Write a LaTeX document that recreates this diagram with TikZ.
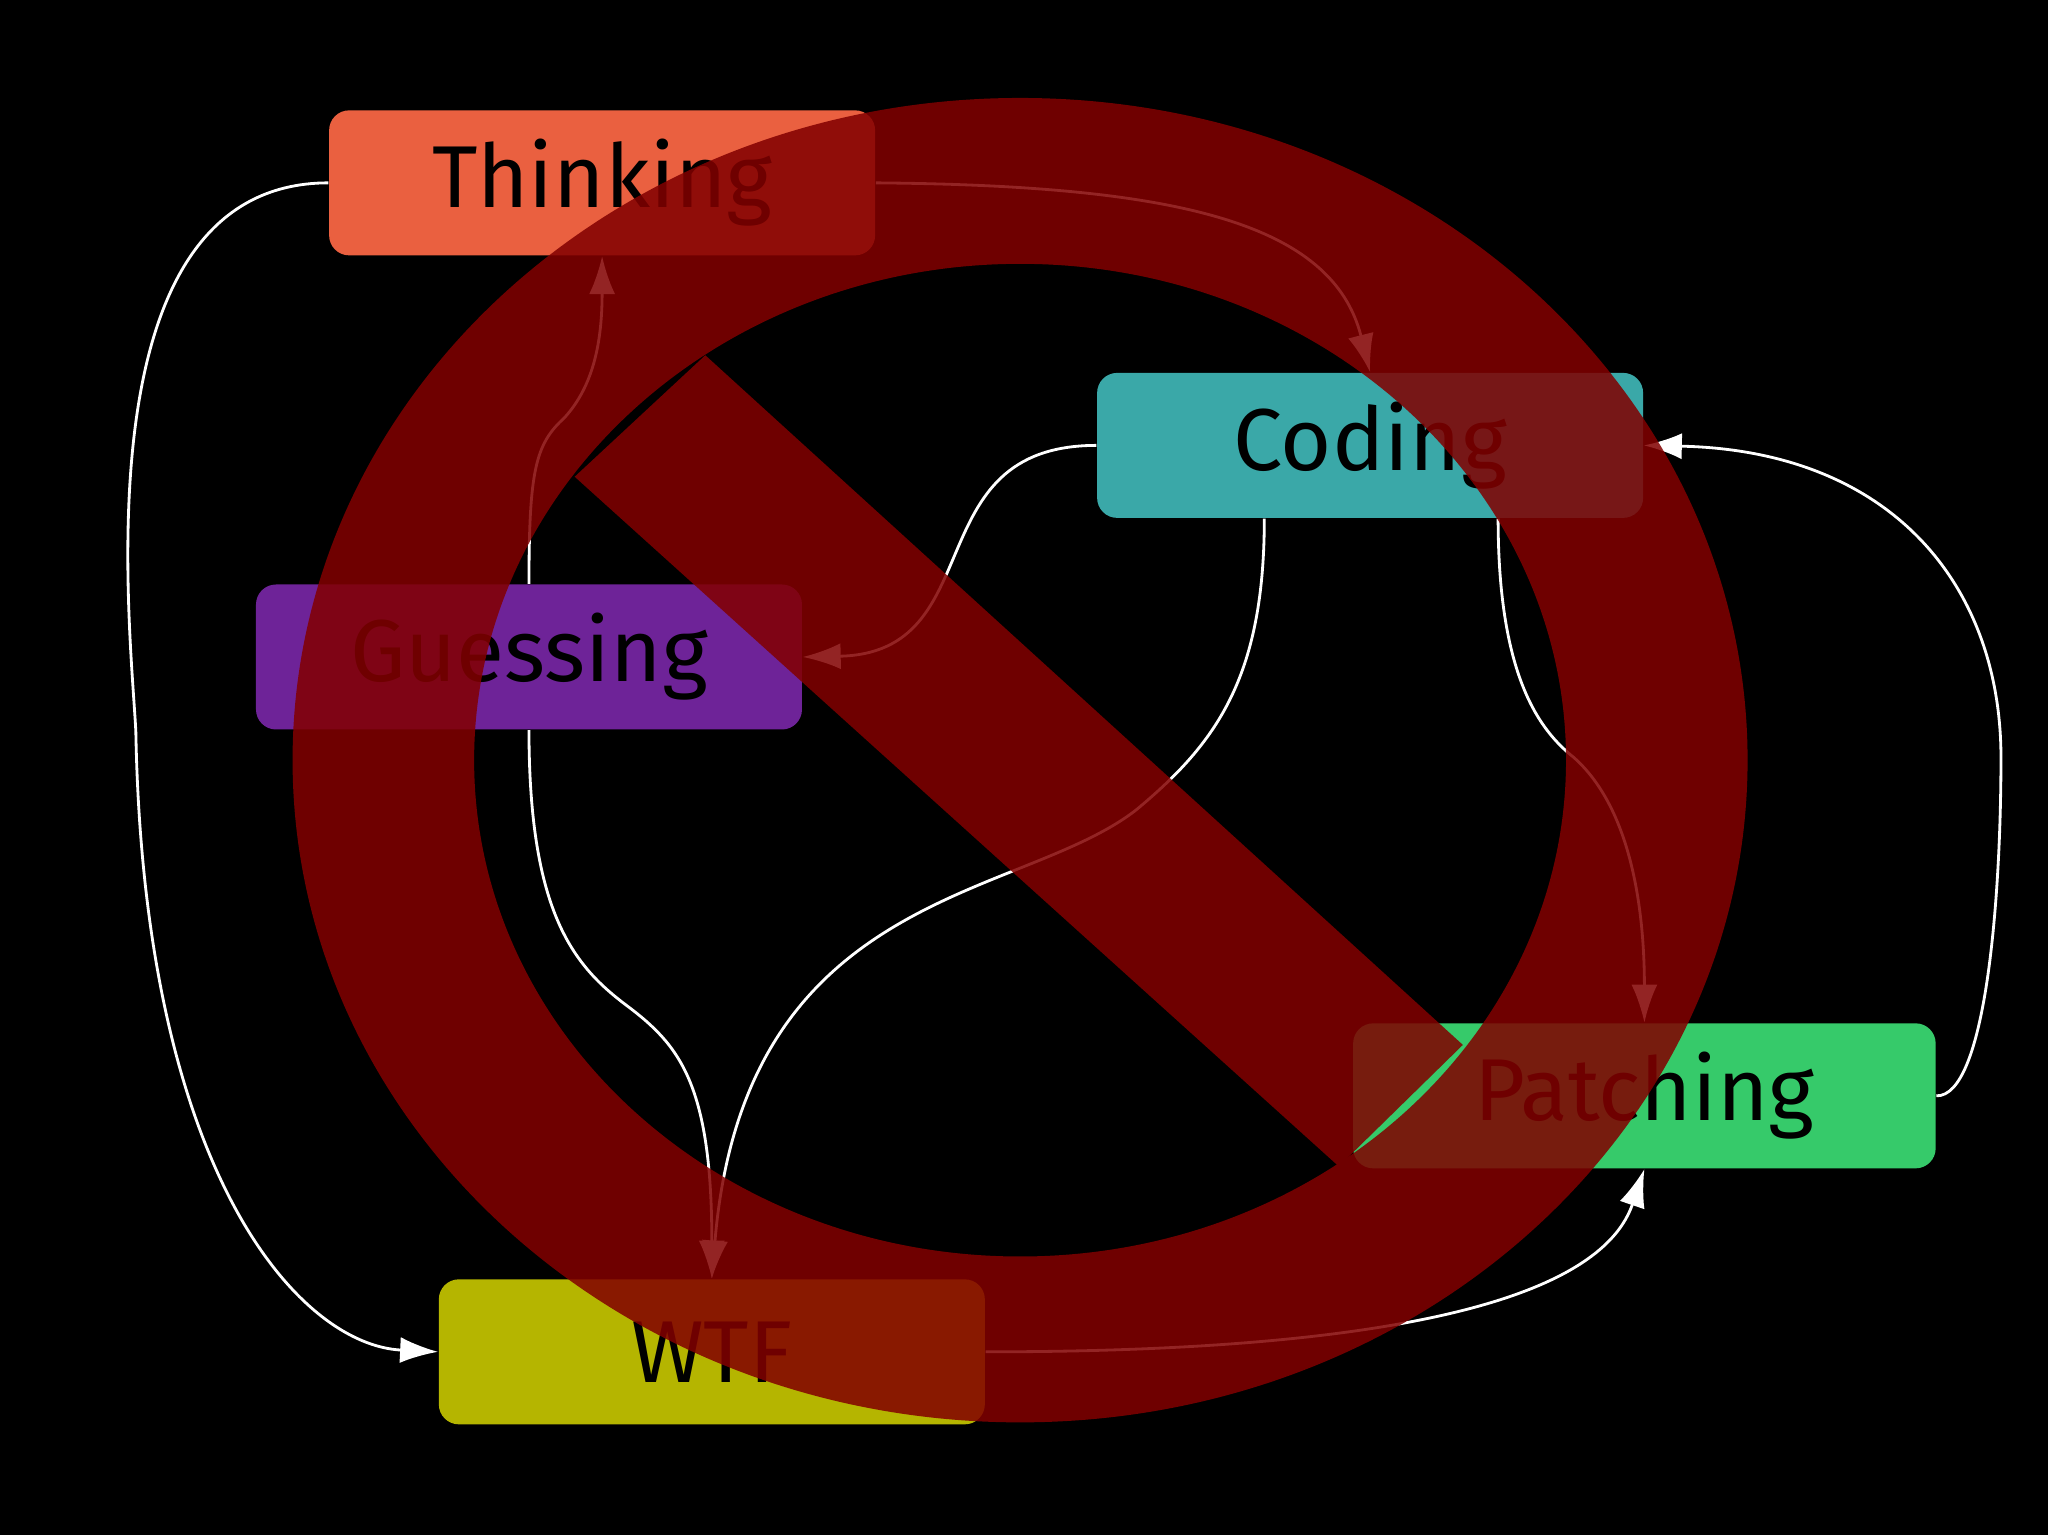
\documentclass[tikz,border=0pt]{standalone}
\usepackage{fontspec}
\setmainfont{Fira Sans}
\usetikzlibrary{arrows.meta}
\definecolor{cthink}{HTML}{EA6040}
\definecolor{ccode}{HTML}{3AA8A8}
\definecolor{cguess}{HTML}{6E2398}
\definecolor{cpatch}{HTML}{36CA6A}
\definecolor{cwtf}{HTML}{B5B500}
\definecolor{cban}{HTML}{820000}
\begin{document}
\begin{tikzpicture}[x=0.013061cm,y=-0.013061cm,
  box/.style={rounded corners=0.2cm,minimum height=1.45cm,minimum width=5.46cm,inner sep=0pt,font=\fontsize{25}{30}\selectfont,text=black},
  edge/.style={draw=white,line width=0.8pt,-{Latex[length=0.38cm,width=0.26cm]}}]
\fill[black] (0,0) rectangle (1568,1175);
\useasboundingbox (0,0) rectangle (1568,1175);
\node[box,fill=cthink] (th) at (461,140) {Thinking};
\node[box,fill=ccode] (co) at (1049,341) {Coding};
\node[box,fill=cguess] (gu) at (405,503) {Guessing};
\node[box,fill=cpatch,minimum width=5.825cm] (pa) at (1259,839) {Patching};
\node[box,fill=cwtf] (wt) at (545,1035) {WTF};
\draw[edge] (th.west) .. controls (60,140) and (100,480) .. (104,560) .. controls (110,900) and (230,1030) .. (wt.west);
\draw[edge] (th.east) .. controls (900,142) and (1020,170) .. (co.north);
\draw[edge] (co.west) .. controls (700,341) and (760,500) .. (gu.east);
\draw[edge] (co.south -| 968,0) .. controls (968,520) and (930,570) .. (870,620) .. controls (780,690) and (570,680) .. (wt.north);
\draw[edge] (co.south -| 1147,0) .. controls (1147,520) and (1180,560) .. (1205,580) .. controls (1250,620) and (1259,700) .. (pa.north);
\draw[edge] (pa.east) .. controls (1520,840) and (1532,690) .. (1532,580) .. controls (1532,450) and (1450,345) .. (co.east);
\draw[edge] (gu.north -| 405,0) .. controls (405,360) and (410,340) .. (432,320) .. controls (455,295) and (461,260) .. (th.south);
\draw[edge] (gu.south -| 405,0) .. controls (405,700) and (440,740) .. (480,770) .. controls (520,800) and (545,830) .. (wt.north);
\draw[edge] (wt.east) .. controls (1000,1035) and (1220,1010) .. (pa.south);
\begin{scope}[transparency group,opacity=0.86]
\fill[cban,even odd rule] (781,582) ellipse [x radius=557,y radius=507] (781,582) ellipse [x radius=418,y radius=380];
\begin{scope}
\clip (781,582) ellipse [x radius=430,y radius=392];
\fill[cban] (540,272) -- (1120,800) -- (1025,893) -- (440,365) -- cycle;
\end{scope}
\end{scope}
\end{tikzpicture}
\end{document}
